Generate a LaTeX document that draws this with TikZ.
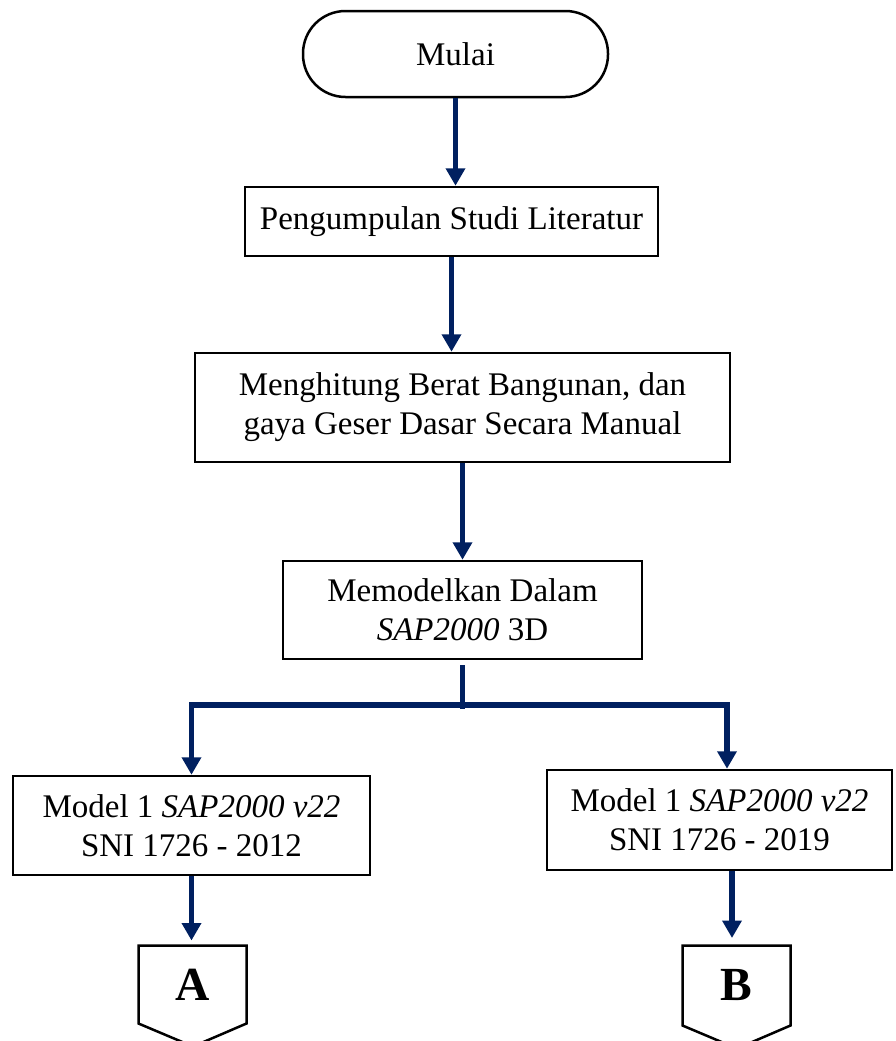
\documentclass[tikz,border=0pt]{standalone}
\usepackage{fontspec}
\setmainfont{Liberation Serif}
\usepackage{tikz}
\usetikzlibrary{arrows.meta}
\definecolor{NavyFlow}{RGB}{0,32,96}

\begin{document}
\begin{tikzpicture}[x=0.4pt, y=-0.4pt,
  terminal/.style={rectangle, rounded corners=17pt, draw=black, line width=1pt,
    minimum width=122pt, minimum height=34.4pt,
    font=\fontsize{13.2}{15.6}\selectfont},
  %
  process/.style={rectangle, draw=black, line width=1pt, align=center,
    inner sep=2pt, font=\fontsize{13.2}{15.6}\selectfont},
  %
  offpage/.style={rectangle, minimum width=42.8pt, inner sep=0pt,
    font=\fontsize{19}{22}\selectfont\bfseries},
  %
  flow/.style={draw=NavyFlow, line width=2.2pt,
    -{Triangle[width=7.5pt,length=7pt]}},
  %
  branch/.style={draw=NavyFlow, line width=2.2pt}
  ]

  \useasboundingbox (0,0) rectangle (895,1041);

  \begin{scope}
    %%%%%%%%%%%%%%%%%%%%%%%%%%%%%%%
    \node [terminal] (mulai) at (455.5,54) {Mulai};
    \node [process, minimum width=165.2pt, minimum height=27.6pt]
      (studi) at (451.5,221.5) {Pengumpulan Studi Literatur};
    \node [process, minimum width=214pt, minimum height=43.6pt]
      (hitung) at (462.5,407.5)
      {Menghitung Berat Bangunan, dan\\gaya Geser Dasar Secara Manual};
    \node [process, minimum width=143.6pt, minimum height=39.2pt]
      (model) at (462.5,610) {Memodelkan Dalam\\\textit{SAP2000} 3D};
    %%%%%%%%%%%%%%%%%%%%%%%%%%%%%%%
    \node [process, minimum width=142.8pt, minimum height=39.6pt]
      (sni12) at (191.5,825.5) {Model 1 \textit{SAP2000 v22}\\SNI 1726 - 2012};
    \node [process, minimum width=138pt, minimum height=40pt]
      (sni19) at (719.5,820) {Model 1 \textit{SAP2000 v22}\\SNI 1726 - 2019};
    %%%%%%%%%%%%%%%%%%%%%%%%%%%%%%%
    \node [offpage, minimum height=30.8pt] (A) at (192.5,984.5) {A};
    \node [offpage, minimum height=31.6pt] (B) at (736.5,985.5) {B};
    \coordinate (fork) at (462.5,705);
  \end{scope}

  \begin{scope}
    \draw [line width=1pt] (A.north west) -- (A.north east) -- (A.south east)
      -- ++(-53.5,23) -- (A.south west) -- cycle;
    \draw [line width=1pt] (B.north west) -- (B.north east) -- (B.south east)
      -- ++(-53.5,23) -- (B.south west) -- cycle;

    \draw [flow] (mulai.south) -- (mulai.south |- studi.north);
    \draw [flow] (studi.south) -- (studi.south |- hitung.north);
    \draw [flow] (hitung.south) -- (hitung.south |- model.north);
    \draw [branch] ([yshift=-2pt]model.south) -- ([yshift=-1.6pt]fork);
    \draw [flow] (fork) -| (sni12);
    \draw [flow] (fork) -| ([xshift=3pt]sni19.north);
    \draw [flow, shorten >=2pt] (sni12.south) -- (sni12.south |- A.north);
    \draw [flow, shorten >=3pt] ([xshift=5pt]sni19.south)
      -- ([xshift=5pt]sni19.south |- B.north);
  \end{scope}

\end{tikzpicture}
\end{document}
